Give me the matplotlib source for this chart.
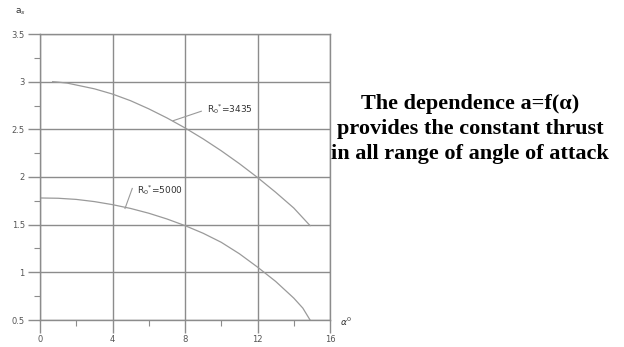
import numpy as np
import matplotlib as mpl
mpl.use('Agg')
from matplotlib import pyplot as plt
from matplotlib.ticker import MultipleLocator

# curve R0*=3435
alpha_a = [0.7, 1, 1.5, 2, 3, 4, 5, 6, 7, 8, 9, 10, 11, 12, 13, 14, 14.9]
a_3435 = [3.0, 2.995, 2.985, 2.965, 2.925, 2.87, 2.80, 2.715, 2.62, 2.515, 2.40, 2.275, 2.14, 1.995, 1.84, 1.675, 1.49]

# curve R0*=5000
alpha_b = [0, 1, 2, 3, 4, 5, 6, 7, 8, 9, 10, 11, 12, 13, 14, 14.5, 14.9]
a_5000 = [1.78, 1.777, 1.765, 1.742, 1.71, 1.67, 1.62, 1.56, 1.49, 1.41, 1.315, 1.195, 1.055, 0.905, 0.73, 0.625, 0.5]

x_ticks = [0, 4, 8, 12, 16]
y_ticks = [0.5, 1, 1.5, 2, 2.5, 3, 3.5]
y_tick_labels = ['0.5', '1', '1.5', '2', '2.5', '3', '3.5']

caption = 'The dependence a=f(\u03b1)\nprovides the constant thrust\nin all range of angle of attack'

fig = plt.figure(figsize=(6.24, 3.47), dpi=100)
ax = fig.add_axes([40/624, 1-320/347, 290/624, 286/347])

grid_c = '#8c8c8c'
curve_c = '#9a9a9a'

ax.plot(alpha_a, a_3435, color=curve_c, lw=0.9)
ax.plot(alpha_b, a_5000, color=curve_c, lw=0.9)

ax.set_xlim(0, 16)
ax.set_ylim(0.5, 3.5)
ax.set_xticks(x_ticks)
ax.set_yticks(y_ticks)
ax.set_yticklabels(y_tick_labels)
ax.xaxis.set_minor_locator(MultipleLocator(2))
ax.yaxis.set_minor_locator(MultipleLocator(0.25))
ax.grid(True, which='major', color=grid_c, lw=1.0)
for s in ax.spines.values():
    s.set_color(grid_c)
    s.set_linewidth(1.0)
ax.tick_params(which='major', length=9, width=1.0, color=grid_c, labelsize=6,
               labelcolor='#555555', pad=2)
ax.tick_params(which='minor', length=4, width=0.8, color=grid_c)

# leader lines and labels
ax.plot([7.34, 8.9], [2.59, 2.69], color=curve_c, lw=0.8)
ax.text(9.2, 2.71, r'R$_0$$^{*}$=3435', fontsize=6.5, color='#333333', va='center')
ax.plot([4.69, 5.09], [1.67, 1.88], color=curve_c, lw=0.8)
ax.text(5.35, 1.86, r'R$_0$$^{*}$=5000', fontsize=6.5, color='#333333', va='center')

fig.text(15/624, 1-12/347, r'a$_s$', fontsize=6.5, color='#333333', va='center')
fig.text(340/624, 1-322/347, r'$\alpha^0$', fontsize=6.5, color='#333333', va='center')

fig.text(470/624, 1-129/347, caption, fontsize=16, fontweight='bold',
         family='Liberation Serif', ha='center', va='center', linespacing=1.35)

fig.savefig('out.png', dpi=100)
